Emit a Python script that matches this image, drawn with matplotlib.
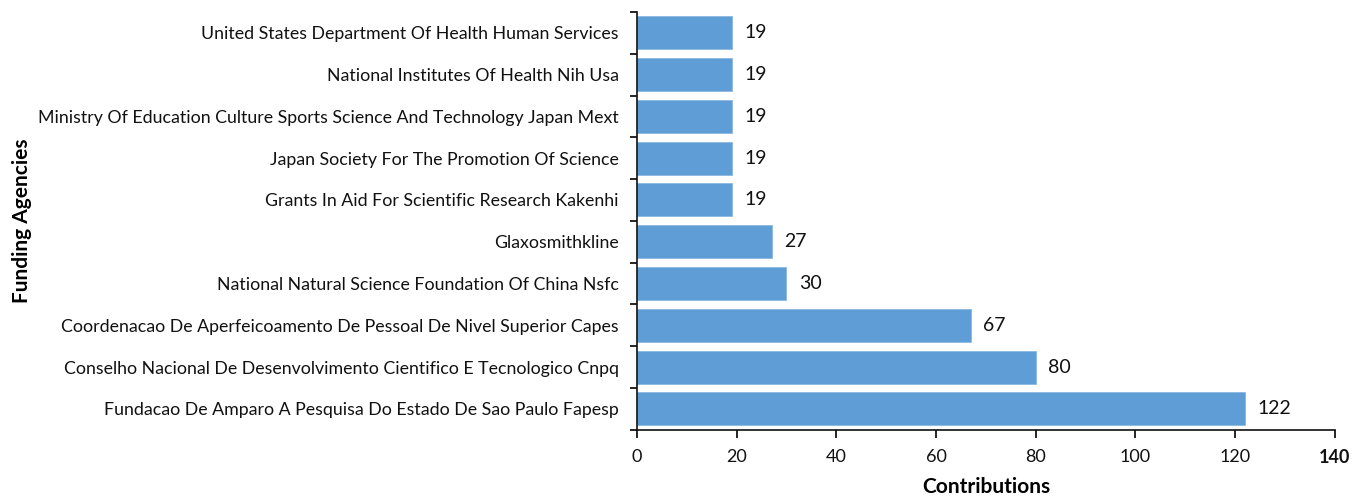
import numpy as np
import matplotlib.pyplot as plt
from matplotlib.ticker import FixedLocator

agencies = [
    "Fundacao De Amparo A Pesquisa Do Estado De Sao Paulo Fapesp",
    "Conselho Nacional De Desenvolvimento Cientifico E Tecnologico Cnpq",
    "Coordenacao De Aperfeicoamento De Pessoal De Nivel Superior Capes",
    "National Natural Science Foundation Of China Nsfc",
    "Glaxosmithkline",
    "Grants In Aid For Scientific Research Kakenhi",
    "Japan Society For The Promotion Of Science",
    "Ministry Of Education Culture Sports Science And Technology Japan Mext",
    "National Institutes Of Health Nih Usa",
    "United States Department Of Health Human Services",
]
contributions = [122, 80, 67, 30, 27, 19, 19, 19, 19, 19]
xticks = [0, 20, 40, 60, 80, 100, 120, 140]

plt.rcParams['font.family'] = ['Lato', 'DejaVu Sans']

fig = plt.figure(figsize=(13.58, 4.98), dpi=100)
ax = fig.add_axes([0.469, 0.137, 0.514, 0.839])

y = np.arange(len(agencies))
ax.barh(y, contributions, height=0.79, color='#5E9DD5', edgecolor='#8BB8E0', linewidth=0.6)

for yi, v in zip(y, contributions):
    ax.text(v + 2.5, yi, str(v), va='center', ha='left', fontsize=14, color='#111111')

ax.set_ylim(-0.5, len(agencies) - 0.5)
ax.set_xlim(0, 140)
ax.set_yticks(y)
ax.set_yticklabels(agencies, fontsize=12.75, color='#111111')
ax.yaxis.set_minor_locator(FixedLocator(np.arange(-0.5, len(agencies), 1.0)))
ax.tick_params(axis='y', which='major', length=0, pad=13)
ax.tick_params(axis='y', which='minor', length=5, width=1.2, direction='out')

ax.set_xticks(xticks)
ax.set_xticklabels([str(t) for t in xticks], fontsize=13, color='#111111')
ax.get_xticklabels()[-1].set_fontweight('bold')
ax.tick_params(axis='x', length=6, width=1.2, direction='out', pad=8)

for s in ['top', 'right']:
    ax.spines[s].set_visible(False)
for s in ['left', 'bottom']:
    ax.spines[s].set_linewidth(1.2)
    ax.spines[s].set_color('#111111')

ax.set_xlabel('Contributions', fontsize=15, fontweight='bold', labelpad=8)
fig.text(0.016, 0.556, 'Funding Agencies', rotation=90, fontsize=15,
         fontweight='bold', va='center', ha='center')

fig.savefig('out.png', dpi=100, facecolor='white')
